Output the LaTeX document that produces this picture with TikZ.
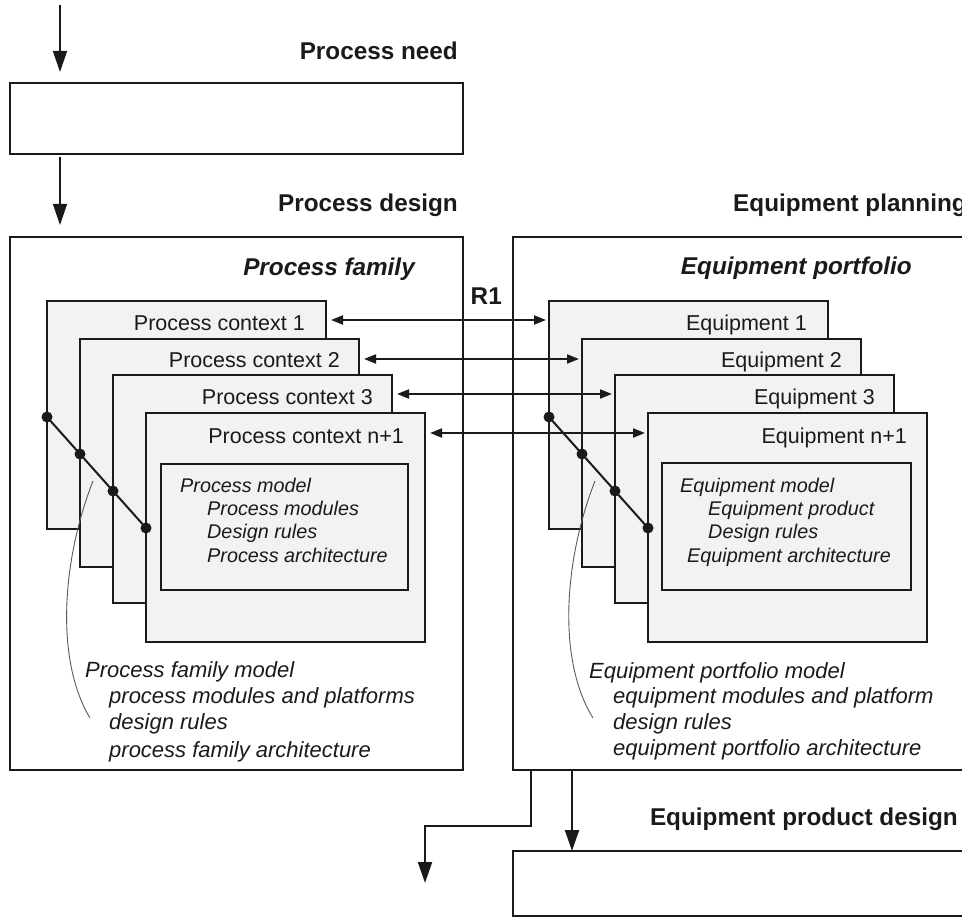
\documentclass[tikz,border=0pt]{standalone}
\usepackage{fontspec}
\setmainfont{Liberation Sans}
\usetikzlibrary{arrows.meta}
\definecolor{panel}{HTML}{F2F2F2}
\definecolor{ink}{HTML}{1A1A1A}

\begin{document}
\begin{tikzpicture}[x=1pt,y=-1pt,
  frame/.style={draw=ink, line width=2.2pt, rectangle, inner sep=0pt, outer sep=0pt, anchor=north west},
  card/.style={frame, fill=panel},
  title/.style={font=\fontsize{24.3}{28}\selectfont\bfseries, text=ink, inner sep=0pt},
  ctxlabel/.style={font=\fontsize{21.5}{25}\selectfont, text=ink, inner sep=0pt, anchor=base east},
  modeltext/.style={font=\fontsize{19.8}{23}\selectfont\itshape, text=ink, inner sep=0pt, anchor=base west},
  famtext/.style={font=\fontsize{22}{26}\selectfont\itshape, text=ink, inner sep=0pt, anchor=base west},
  flow/.style={-{Triangle[length=21pt,width=14pt]}, line width=1.4pt, draw=ink},
  bigflow/.style={flow, line width=2pt},
  link/.style={{Triangle[length=12pt,width=9pt]}-{Triangle[length=12pt,width=9pt]}, line width=2pt, draw=ink, shorten <=5pt, shorten >=3pt},
  joint/.style={circle, fill=ink, inner sep=0pt, minimum size=11pt},
  chain/.style={draw=ink, line width=2pt},
  brace/.style={draw=black!65, line width=0.9pt},
]
\useasboundingbox (0,0) rectangle (962,917);
\clip (0,0) rectangle (962,917);

% ---------- process side ----------
\node[frame, minimum width=453pt, minimum height=71pt] (needbox) at (10,83) {};
\node[frame, minimum width=453pt, minimum height=533pt] (famfrm) at (10,237) {};
\node[title, anchor=base east] (needttl) at (458,60) {Process need};
\node[title, anchor=base east] (desttl) at (458,212) {Process design};
\node[title, anchor=base east] (famttl) at (415,276) {\itshape Process family};

\coordinate (entry) at (60,5);
\draw[flow, shorten >=11pt] (entry) -- (entry |- needbox.north);
\draw[flow, shorten <=3pt, shorten >=12pt] (needbox.south -| entry) -- (famfrm.north -| entry);

\node[card, minimum width=279pt, minimum height=228pt] (pc1) at (47,301) {};
\node[card, minimum width=279pt, minimum height=228pt] (pc2) at (80,339) {};
\node[card, minimum width=279pt, minimum height=228pt] (pc3) at (113,375) {};
\node[card, minimum width=279pt, minimum height=229pt] (pc4) at (146,413) {};
\node[card, minimum width=247pt, minimum height=126pt] (pmodel) at (161,464) {};

\node[ctxlabel] (pl1) at ([xshift=-21pt,yshift=-30pt]pc1.north east) {Process context 1};
\node[ctxlabel] (pl2) at ([xshift=-19pt,yshift=-29pt]pc2.north east) {Process context 2};
\node[ctxlabel] (pl3) at ([xshift=-19pt,yshift=-30pt]pc3.north east) {Process context 3};
\node[ctxlabel] (pl4) at ([xshift=-21pt,yshift=-30pt]pc4.north east) {Process context n+1};

\node[modeltext] (pm1) at (180,492) {Process model};
\node[modeltext] (pm2) at (207,515) {Process modules};
\node[modeltext] (pm3) at (207,538) {Design rules};
\node[modeltext] (pm4) at (207,562) {Process architecture};

\coordinate (d1) at ([yshift=-116pt]pc1.north west);
\coordinate (d2) at ([yshift=-115pt]pc2.north west);
\coordinate (d3) at ([yshift=-116pt]pc3.north west);
\coordinate (d4) at ([yshift=-115pt]pc4.north west);
\draw[chain] (d1) -- (d4);
\foreach \p in {d1,d2,d3,d4} \node[joint] at (\p) {};

\coordinate (pbs) at (93,481);
\coordinate (pbe) at (90,718);
\draw[brace] (pbs) .. controls (62,560) and (55,660) .. (pbe);

\node[famtext] (pf1) at (85,677) {Process family model};
\node[famtext] (pf2) at (109,703) {process modules and platforms};
\node[famtext] (pf3) at (109,729) {design rules};
\node[famtext] (pf4) at (109,757) {process family architecture};

% ---------- equipment side ----------
\node[frame, minimum width=480pt, minimum height=533pt] (eqfrm) at (513,237) {};
\node[frame, minimum width=480pt, minimum height=65pt] (prodbox) at (513,851) {};
\node[title, anchor=base west] (planttl) at (733,212) {Equipment planning};
\node[title, anchor=base east] (portttl) at (912,275) {\itshape Equipment portfolio};
\node[title, anchor=base east] (r1) at (502,305) {R1};
\node[title, anchor=base east] (prodttl) at (958,825) {Equipment product design};

\node[card, minimum width=279pt, minimum height=228pt] (eq1) at (549,301) {};
\node[card, minimum width=279pt, minimum height=228pt] (eq2) at (582,339) {};
\node[card, minimum width=279pt, minimum height=228pt] (eq3) at (615,375) {};
\node[card, minimum width=279pt, minimum height=229pt] (eq4) at (648,413) {};
\node[card, minimum width=249pt, minimum height=127pt] (emodel) at (662,463) {};

\node[ctxlabel] (el1) at ([xshift=-21pt,yshift=-30pt]eq1.north east) {Equipment 1};
\node[ctxlabel] (el2) at ([xshift=-19pt,yshift=-29pt]eq2.north east) {Equipment 2};
\node[ctxlabel] (el3) at ([xshift=-19pt,yshift=-30pt]eq3.north east) {Equipment 3};
\node[ctxlabel] (el4) at ([xshift=-20pt,yshift=-30pt]eq4.north east) {Equipment n+1};

\node[modeltext] (em1) at (680,492) {Equipment model};
\node[modeltext] (em2) at (708,515) {Equipment product};
\node[modeltext] (em3) at (708,538) {Design rules};
\node[modeltext] (em4) at (687,562) {Equipment architecture};

\coordinate (e1) at ([yshift=-116pt]eq1.north west);
\coordinate (e2) at ([yshift=-115pt]eq2.north west);
\coordinate (e3) at ([yshift=-116pt]eq3.north west);
\coordinate (e4) at ([yshift=-115pt]eq4.north west);
\draw[chain] (e1) -- (e4);
\foreach \p in {e1,e2,e3,e4} \node[joint] at (\p) {};

\coordinate (ebs) at (595,481);
\coordinate (ebe) at (593,718);
\draw[brace] (ebs) .. controls (564,560) and (557,660) .. (ebe);

\node[famtext] (ef1) at (589,678) {Equipment portfolio model};
\node[famtext] (ef2) at (613,703) {equipment modules and platform};
\node[famtext] (ef3) at (613,729) {design rules};
\node[famtext] (ef4) at (613,755) {equipment portfolio architecture};

% ---------- links between contexts and equipment ----------
\draw[link] ([yshift=-19pt]pc1.north east) -- ([yshift=-19pt]eq1.north west);
\draw[link] ([yshift=-20pt]pc2.north east) -- ([yshift=-20pt]eq2.north west);
\draw[link] ([yshift=-19pt]pc3.north east) -- ([yshift=-19pt]eq3.north west);
\draw[link] ([yshift=-20pt]pc4.north east) -- ([yshift=-20pt]eq4.north west);

% ---------- outputs ----------
\coordinate (exit) at (425,883);
\draw[bigflow] ([xshift=18pt]eqfrm.south west) -- ++(0,56) -| (exit);
\draw[bigflow] ([xshift=59pt]eqfrm.south west) -- ([xshift=59pt]prodbox.north west);
\end{tikzpicture}
\end{document}
